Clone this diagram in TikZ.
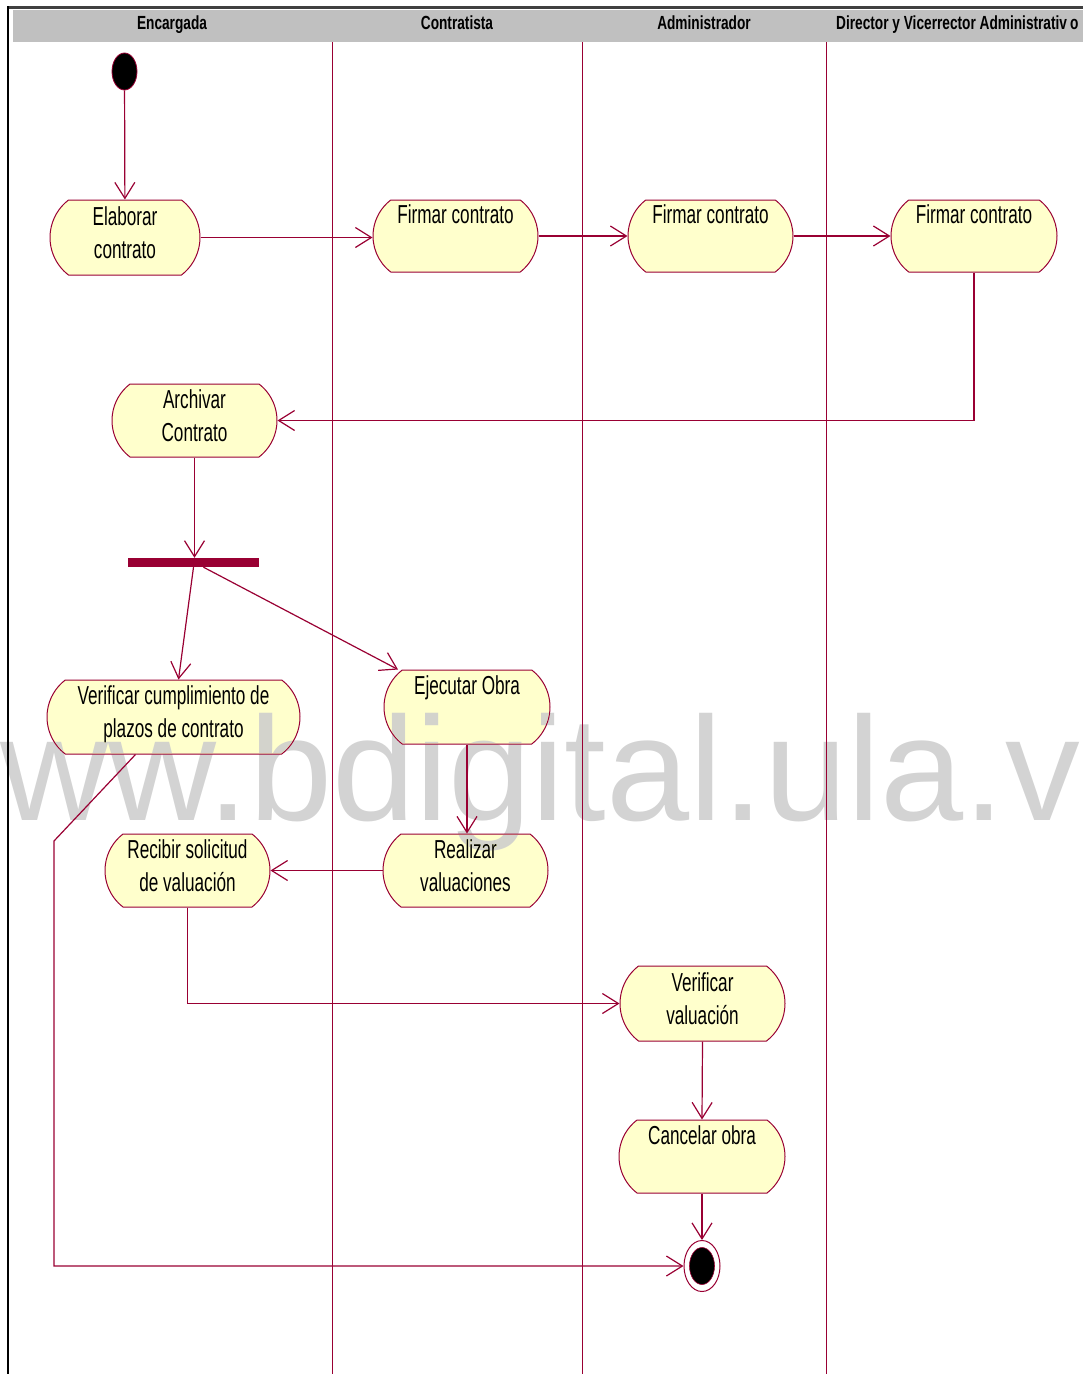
\documentclass[tikz,border=0pt]{standalone}
\usepackage{fontspec}
\setmainfont[FakeStretch=0.66]{Liberation Sans}
\newfontfamily\headfont[FakeStretch=0.72]{Liberation Sans}
\newfontfamily\wmfont[FakeStretch=1.01]{Liberation Sans}
\usetikzlibrary{shapes.misc,shapes.geometric,arrows.meta}
\definecolor{rose}{RGB}{153,0,51}
\definecolor{actyellow}{RGB}{255,255,204}
\definecolor{headgray}{RGB}{192,192,192}
\definecolor{wmgray}{RGB}{211,211,211}
\begin{document}
\begin{tikzpicture}[x=1pt,y=-1pt,
  activity/.style={rounded rectangle, rounded rectangle arc length=105,
    draw=rose, line width=1pt, fill=actyellow, minimum height=73pt,
    minimum width=165pt, inner sep=0pt, align=center,
    font=\fontsize{26}{33}\selectfont},
  flow/.style={draw=rose, line width=1.2pt,
    -{Straight Barb[length=16pt,width=20pt]}},
  lane/.style={draw=rose, line width=0.8pt},
  lanehead/.style={inner sep=0pt, anchor=base, font=\headfont\bfseries\fontsize{19}{22}\selectfont},
]
\useasboundingbox (0,0) rectangle (1083,1374);
\clip (0,0) rectangle (1083,1374);

% swimlane header and frame
\fill[headgray] (13,10) rectangle (1083,42);
\draw[line width=3pt, black!75] (8,7) -- (1083,7);
\draw[line width=2.5pt] (8,6) -- (8,1374);
\draw[lane] (332,42) -- (332,1374);
\draw[lane] (582,42) -- (582,1374);
\draw[lane] (826,42) -- (826,1374);

\node[lanehead] (h1) at (172,29) {Encargada};
\node[lanehead] (h2) at (457,29) {Contratista};
\node[lanehead] (h3) at (704,29) {Administrador};
\node[lanehead, anchor=base west] (h4) at (836,29) {Director y Vicerrector Administrativ\kern3pt o};

% start and end states
\node[ellipse, draw=rose, line width=0.8pt, fill=black, minimum width=25pt,
  minimum height=37pt, inner sep=0pt] (start) at (124.5,71.5) {};
\node[ellipse, draw=rose, line width=1pt, fill=white, minimum width=36pt,
  minimum height=51pt, inner sep=0pt] (fin) at (702,1266) {};
\node[ellipse, draw=rose, line width=0.6pt, fill=black, minimum width=25pt,
  minimum height=37pt, inner sep=0pt] (finin) at (702,1266) {};

% activities
\node[activity, minimum width=150pt, minimum height=75pt] (elab) at (125,237.5) {Elaborar\\contrato\strut};
\node[activity, minimum height=72pt] (fc) at (455.5,236) {Firmar contrato\\\strut};
\node[activity, minimum height=72pt] (fa) at (710.5,236) {Firmar contrato\\\strut};
\node[activity, minimum width=166pt, minimum height=72pt] (fd) at (974,236) {Firmar contrato\\\strut};
\node[activity] (arch) at (194.5,420.5) {Archivar\\Contrato\strut};
\node[fill=rose, minimum width=131pt, minimum height=9pt, inner sep=0pt] (fork) at (193.5,562.5) {};
\node[activity, minimum width=253pt, minimum height=74pt] (verc) at (173.5,717) {Verificar cumplimiento de\\plazos de contrato\strut};
\node[activity, minimum width=166pt, minimum height=74pt] (ejec) at (467,707) {Ejecutar Obra\\\strut};
\node[activity] (recib) at (187.5,870.5) {Recibir solicitud\\de valuación\strut};
\node[activity] (realiz) at (465.5,870.5) {Realizar\\valuaciones\strut};
\node[activity, minimum height=75pt] (verv) at (702.5,1003.5) {Verificar\\valuación\strut};
\node[activity, minimum width=166pt] (canc) at (702,1156.5) {Cancelar obra\\\strut};

% control flows
\draw[flow] (start) -- (elab);
\draw[flow] (elab.east) -- (elab.east -| fc.west);
\draw[flow] (fc.east) -- (fa.west);
\draw[flow] (fa.east) -- (fd.west);
\draw[flow] (fd.south) |- (arch.east);
\draw[flow] (arch.south) -- (arch.south |- fork.north);
\draw[flow] (fork.south) -- ([xshift=5pt]verc.north);
\draw[flow] ([xshift=10pt]fork.south) -- ([xshift=-69pt]ejec.north);
\draw[flow] (ejec.south) -- (ejec.south |- realiz.north);
\draw[flow] (realiz.west) -- (recib.east);
\draw[flow] (recib.south) |- (verv.west);
\draw[flow] (verv.south) -- (canc.north);
\draw[flow] (canc.south) -- (fin.north);
\coordinate (bend) at (54,841);
\draw[flow] ([xshift=-38pt]verc.south) -- (bend) |- (fin.west);

% watermark
\begin{scope}[blend mode=darken]
\node[font=\wmfont\fontsize{148}{148}\selectfont, text=wmgray, anchor=base west,
  inner sep=0pt] (wm) at (-108,820) {www.bdigital.ula.ve};
\end{scope}
\end{tikzpicture}
\end{document}
